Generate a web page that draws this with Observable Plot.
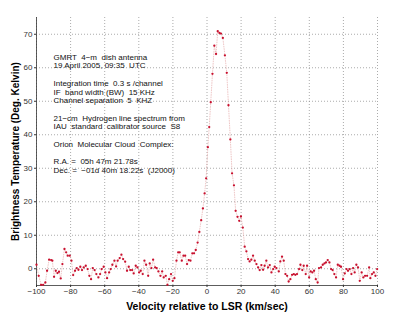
<!DOCTYPE html>
<html>
<head>
<meta charset="utf-8">
<script src="https://cdn.jsdelivr.net/npm/d3@7"></script>
<script src="https://cdn.jsdelivr.net/npm/@observablehq/plot@0.6"></script>
<style>
  html, body { margin: 0; padding: 0; background: #fff; }
  svg text { white-space: pre; }
</style>
</head>
<body>
<div id="chart"></div>
<script>
const velocity = [
  -100, -98.7, -97.3, -96.1, -94.8, -93.8, -92.6, -91.4, -90.7, -89.7,
  -88.7, -87.7, -86.8, -85.8, -84.8, -83.6, -82.6, -81.7, -80.5, -79.5,
  -78.5, -77.4, -76.4, -75.4, -74.3, -73.3, -72.3, -71.1, -70.0, -69.0,
  -68.0, -67.0, -65.9, -64.9, -63.7, -62.7, -61.8, -60.6, -59.6, -58.6,
  -57.4, -56.5, -55.5, -54.3, -53.3, -52.4, -51.2, -50.2, -49.2, -48.0,
  -46.9, -45.9, -45.0, -43.9, -43.0, -41.8, -40.8, -39.8, -38.9, -37.7,
  -36.7, -35.7, -34.5, -33.6, -32.6, -31.6, -30.4, -29.5, -28.5, -27.3,
  -26.3, -25.4, -24.2, -23.2, -22.2, -21.1, -20.1, -19.1, -17.9, -16.9,
  -16.0, -14.8, -13.8, -12.8, -11.7, -10.7, -9.7, -8.6, -7.6, -6.6,
  -5.5, -4.5, -3.4, -2.4, -1.4, -0.5, 0.5, 1.3, 2.2, 3.2,
  4.3, 5.3, 6.3, 7.3, 8.2, 9.3, 10.5, 11.6, 12.6, 13.7,
  14.7, 15.8, 16.8, 17.9, 18.9, 19.9, 21.0, 22.1, 23.1, 24.1,
  25.0, 26.0, 27.0, 28.0, 29.0, 30.0, 30.9, 31.9, 32.9, 33.8,
  34.8, 35.8, 36.8, 37.8, 38.8, 39.7, 40.7, 42.1, 43.0, 44.0,
  45.0, 46.0, 47.0, 47.9, 48.9, 49.9, 50.9, 51.8, 52.8, 54.0,
  54.8, 55.9, 56.7, 57.9, 58.7, 59.9, 60.8, 61.8, 62.8, 63.8,
  64.9, 65.7, 66.9, 67.9, 68.9, 69.8, 70.8, 71.8, 72.8, 73.7,
  74.7, 75.7, 76.7, 77.7, 78.6, 79.8, 80.8, 81.8, 82.7, 83.7,
  84.7, 85.7, 86.6, 87.6, 88.6, 89.6, 90.7, 91.7, 92.7, 93.9,
  95.1, 95.8, 96.8, 97.8, 98.8, 99.8
];
const temperature = [
  1.2, -2.1, -4.8, -4.8, -4.1, -0.6, 2.7, 2.6, 2.4, -2.4,
  -0.6, -1.3, -0.9, -2.9, 1.4, 5.9, 4.9, 3.9, 3.9, 2.4,
  -1.9, -0.6, 0.2, -0.3, 0.6, -0.4, 0.4, 0.9, -0.1, -2.1,
  -3.1, 0.2, -0.4, -1.6, -2.6, -1.6, -0.1, 0.6, -1.1, -2.8,
  -1.1, -0.1, 1.2, 2.4, 0.7, 2.4, 3.2, 4.2, 2.9, 2.1,
  -0.6, 0.6, -0.4, -0.4, -1.4, 0.9, 0.4, -1.1, -0.6, -1.6,
  2.4, 1.2, -2.1, 1.6, 0.2, 2.7, 0.4, 0.2, -0.8, -2.1,
  -0.8, -2.6, -2.1, -4.8, -3.1, -1.6, -3.6, -2.8, 2.4, 4.9,
  4.9, 2.4, 3.9, 3.9, 1.4, 2.6, 2.4, 4.6, 4.6, 5.6,
  7.8, 11.0, 14.5, 18.0, 22.5, 27.0, 36.3, 42.3, 49.7, 58.2,
  66.6, 64.1, 70.9, 70.4, 70.2, 68.9, 63.7, 58.5, 48.8, 38.6,
  28.5, 24.9, 17.3, 15.5, 14.3, 15.6, 12.3, 6.6, 5.2, 2.9,
  2.2, 2.7, 3.9, 2.4, 1.4, 0.4, -0.4, 1.1, -0.3, 0.9,
  2.4, 0.4, 1.1, -1.1, -0.1, 0.6, 0.2, -0.8, 2.2, 3.6,
  2.4, -1.6, -2.1, -3.8, -3.1, -1.8, -1.6, -1.8, -1.6, -0.1,
  1.2, -0.4, 0.9, -1.6, 0.9, -2.6, -0.8, -1.1, -0.6, -3.1,
  -4.1, 0.2, 0.4, 1.2, 1.6, 1.9, 2.6, 1.9, -0.1, -0.4,
  -1.6, -2.6, 1.2, 0.9, 0.6, -3.1, -1.4, -0.1, -0.6, -0.1,
  -1.6, 0.2, -1.1, 1.2, 0.4, -3.6, -1.1, -2.6, -2.1, -2.1,
  0.4, -2.8, -1.6, -1.1, -2.1, -0.1
];
const xTicks = [-100, -80, -60, -40, -20, 0, 20, 40, 60, 80, 100];
const yTicks = [0, 10, 20, 30, 40, 50, 60, 70];
const xLabel = "Velocity relative to LSR (km/sec)";
const yLabel = "Brightness Temperature (Deg. Kelvin)";
const annotationLines = [
  "GMRT  4\u2212m  dish antenna",
  "19 April 2005, 09:35  UTC",
  "",
  "Integration time  0.3 s /channel",
  "IF  band width (BW)  15 KHz",
  "Channel separation  5  KHZ",
  "",
  "21\u2212cm  Hydrogen line spectrum from",
  "IAU  standard  calibrator source  S8",
  "",
  "Orion  Molecular Cloud  Complex:",
  "",
  "R.A. =  05h 47m 21.78s",
  "Dec. =  \u221201d 40m 18.22s  (J2000)"
];

const data = velocity.map((v, i) => ({v, t: temperature[i]}));

const chart = Plot.plot({
  width: 400,
  height: 321,
  marginLeft: 36,
  marginRight: 23,
  marginTop: 17,
  marginBottom: 36,
  style: {fontFamily: "'Liberation Sans', Arial, sans-serif", fontSize: "8px", color: "#222", background: "#fff"},
  x: {domain: [-100, 100]},
  y: {domain: [-5, 75]},
  marks: [
    Plot.gridX(xTicks, {stroke: "#888", strokeOpacity: 0.7, strokeDasharray: "1,2"}),
    Plot.gridY(yTicks, {stroke: "#888", strokeOpacity: 0.7, strokeDasharray: "1,2"}),
    Plot.axisX(xTicks, {tickSize: 2, tickPadding: 1, label: null, fontSize: 8, color: "#333"}),
    Plot.axisY(yTicks, {tickSize: 2, tickPadding: 2, label: null, fontSize: 8, color: "#333"}),
    Plot.ruleX([-100], {stroke: "#333", strokeWidth: 0.8}),
    Plot.ruleY([-5], {stroke: "#333", strokeWidth: 0.8}),
    Plot.line(data, {x: "v", y: "t", stroke: "#e3a0a0", strokeWidth: 0.6, strokeDasharray: "0.8,1.6"}),
    Plot.dot(data, {x: "v", y: "t", r: 1.15, fill: "#c8102e", stroke: null}),
    Plot.text([annotationLines.join("\n")], {
      frameAnchor: "top-left", dx: 17, dy: 36, lineAnchor: "top", textAnchor: "start",
      lineHeight: 1.09, fontSize: 8, fill: "#111"
    }),
    Plot.text([xLabel], {frameAnchor: "bottom", dy: 24, fontSize: 10.5, fontWeight: "bold", fill: "#000"}),
    Plot.text([yLabel], {frameAnchor: "left", textAnchor: "middle", dx: -21, dy: 0, rotate: -90, fontSize: 10, fontWeight: "bold", fill: "#000"})
  ]
});
document.getElementById("chart").appendChild(chart);
</script>
</body>
</html>
